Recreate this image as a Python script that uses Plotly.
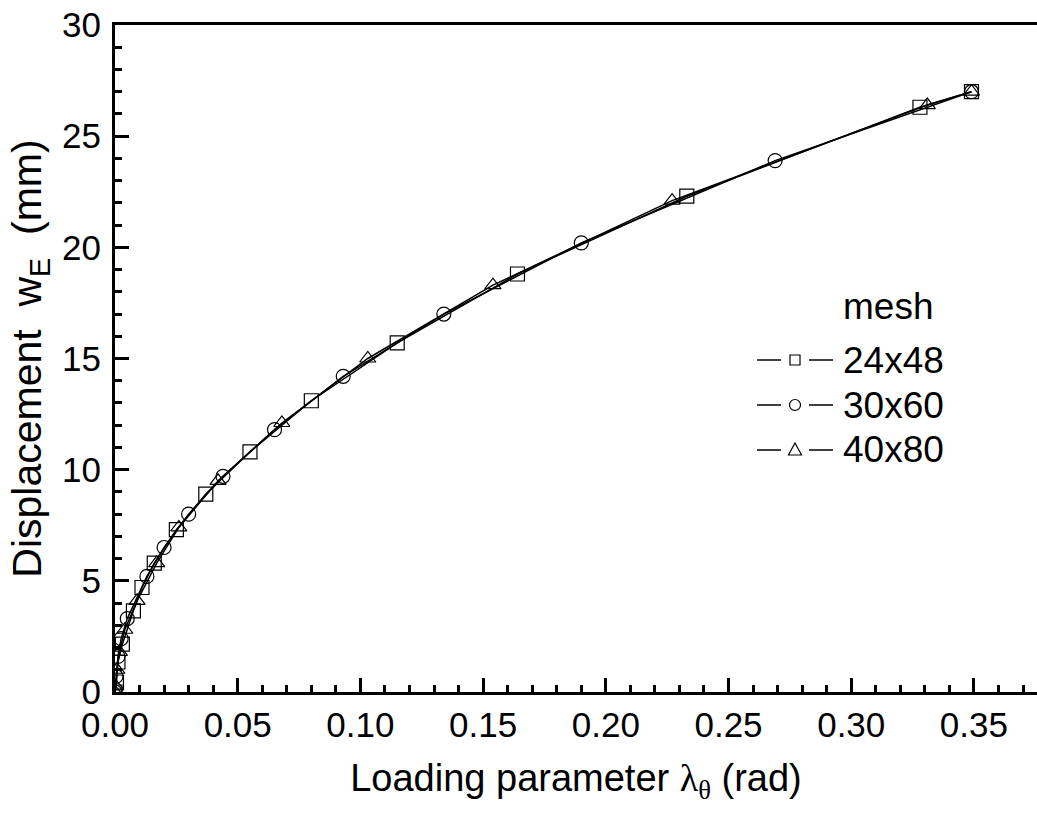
import plotly.graph_objects as go

# ---- data ----
names = ["24x48", "30x60", "40x80"]
symbols = ["square-open", "circle-open", "triangle-up-open"]

x_24x48 = [0.0, 0.0006, 0.0012, 0.0030, 0.0075, 0.0110, 0.0160, 0.0250, 0.0370, 0.0550,
           0.0800, 0.1150, 0.1640, 0.2330, 0.3280, 0.3490]
y_24x48 = [0.0, 0.45, 1.35, 2.15, 3.65, 4.70, 5.80, 7.30, 8.90, 10.80,
           13.10, 15.70, 18.80, 22.30, 26.30, 27.00]

x_30x60 = [0.0, 0.0004, 0.0012, 0.0025, 0.0050, 0.0130, 0.0200, 0.0300, 0.0440, 0.0650,
           0.0930, 0.1340, 0.1900, 0.2690, 0.3490]
y_30x60 = [0.0, 0.70, 1.60, 2.40, 3.30, 5.20, 6.50, 8.00, 9.70, 11.80,
           14.20, 17.00, 20.20, 23.90, 27.00]

x_40x80 = [0.0, 0.0003, 0.0008, 0.0018, 0.0040, 0.0090, 0.0170, 0.0260, 0.0420, 0.0680,
           0.1030, 0.1540, 0.2270, 0.3310, 0.3490]
y_40x80 = [0.0, 0.25, 1.00, 1.80, 2.80, 4.10, 5.80, 7.40, 9.50, 12.10,
           15.00, 18.30, 22.10, 26.40, 27.00]

xs = [x_24x48, x_30x60, x_40x80]
ys = [y_24x48, y_30x60, y_40x80]

x_ticks = [0.00, 0.05, 0.10, 0.15, 0.20, 0.25, 0.30, 0.35]
x_tick_labels = ["0.00", "0.05", "0.10", "0.15", "0.20", "0.25", "0.30", "0.35"]
y_ticks = [0, 5, 10, 15, 20, 25, 30]

W, H = 1037, 816
ML, MR, MT, MB = 115, 0, 25, 124

fig = go.Figure()
for n, s, x, y in zip(names, symbols, xs, ys):
    fig.add_trace(go.Scatter(
        x=x, y=y, name=n, mode="lines+markers",
        line=dict(color="black", width=1.5),
        marker=dict(symbol=s, size=14, color="black", line=dict(width=1.2, color="black")),
        showlegend=False,
    ))

FONT = "Liberation Sans, Arial, sans-serif"

fig.update_layout(
    width=W, height=H,
    margin=dict(l=ML, r=MR, t=MT, b=MB),
    paper_bgcolor="white", plot_bgcolor="white",
    font=dict(family=FONT, color="black", size=35),
    xaxis=dict(
        range=[0, 0.3757], tickvals=x_ticks, ticktext=x_tick_labels,
        showgrid=False, zeroline=False,
        showline=True, linecolor="black", linewidth=3, mirror=True,
        ticks="inside", ticklen=14, tickwidth=2.5, tickcolor="black",
        minor=dict(dtick=0.01, ticks="inside", ticklen=7, tickwidth=2.5, tickcolor="black", showgrid=False),
        tickfont=dict(size=35), ticklabelstandoff=0,
        title=dict(text="Loading parameter <span style='font-family:Liberation Serif'>λ</span><sub><span style='font-family:Liberation Serif'>θ</span></sub> (rad)",
                   font=dict(size=38), standoff=22),
    ),
    yaxis=dict(
        range=[0, 30], tickvals=y_ticks,
        showgrid=False, zeroline=False,
        showline=True, linecolor="black", linewidth=3, mirror=False,
        ticks="inside", ticklen=14, tickwidth=2.5, tickcolor="black",
        minor=dict(dtick=1, ticks="inside", ticklen=7, tickwidth=2.5, tickcolor="black", showgrid=False),
        tickfont=dict(size=35), ticklabelstandoff=4,
        title=dict(text="Displacement\u00a0\u00a0w<sub>E</sub>\u00a0\u00a0(mm)", font=dict(size=41), standoff=8),
    ),
    showlegend=False,
)

# ---- manual legend (pixel layout converted to paper coords) ----
def px(xp):
    return (xp - ML) / (W - ML - MR)

def py(yp):
    return 1 - (yp - MT) / (H - MT - MB)

fig.add_annotation(x=px(841), y=py(306), xref="paper", yref="paper", text="mesh",
                   showarrow=False, xanchor="left", yanchor="middle", font=dict(size=37))
leg_y = [360, 405, 450]
mcx, r = 795, 5
for n, s, yy in zip(names, symbols, leg_y):
    fig.add_shape(type="line", xref="paper", yref="paper", x0=px(757), x1=px(781), y0=py(yy), y1=py(yy),
                  line=dict(color="black", width=1.5))
    fig.add_shape(type="line", xref="paper", yref="paper", x0=px(809), x1=px(833), y0=py(yy), y1=py(yy),
                  line=dict(color="black", width=1.5))
    if s.startswith("square"):
        fig.add_shape(type="rect", xref="paper", yref="paper", x0=px(mcx - r), x1=px(mcx + r),
                      y0=py(yy - r), y1=py(yy + r), line=dict(color="black", width=1.2))
    elif s.startswith("circle"):
        fig.add_shape(type="circle", xref="paper", yref="paper", x0=px(mcx - r - 0.5), x1=px(mcx + r + 0.5),
                      y0=py(yy - r - 0.5), y1=py(yy + r + 0.5), line=dict(color="black", width=1.2))
    else:
        path = "M {} {} L {} {} L {} {} Z".format(px(mcx - 6.5), py(yy + 5), px(mcx + 6.5), py(yy + 5),
                                                  px(mcx), py(yy - 7))
        fig.add_shape(type="path", xref="paper", yref="paper", path=path, line=dict(color="black", width=1.2))
    fig.add_annotation(x=px(841), y=py(yy), xref="paper", yref="paper", text=n,
                       showarrow=False, xanchor="left", yanchor="middle", font=dict(size=37))

fig.write_html("out.html")
